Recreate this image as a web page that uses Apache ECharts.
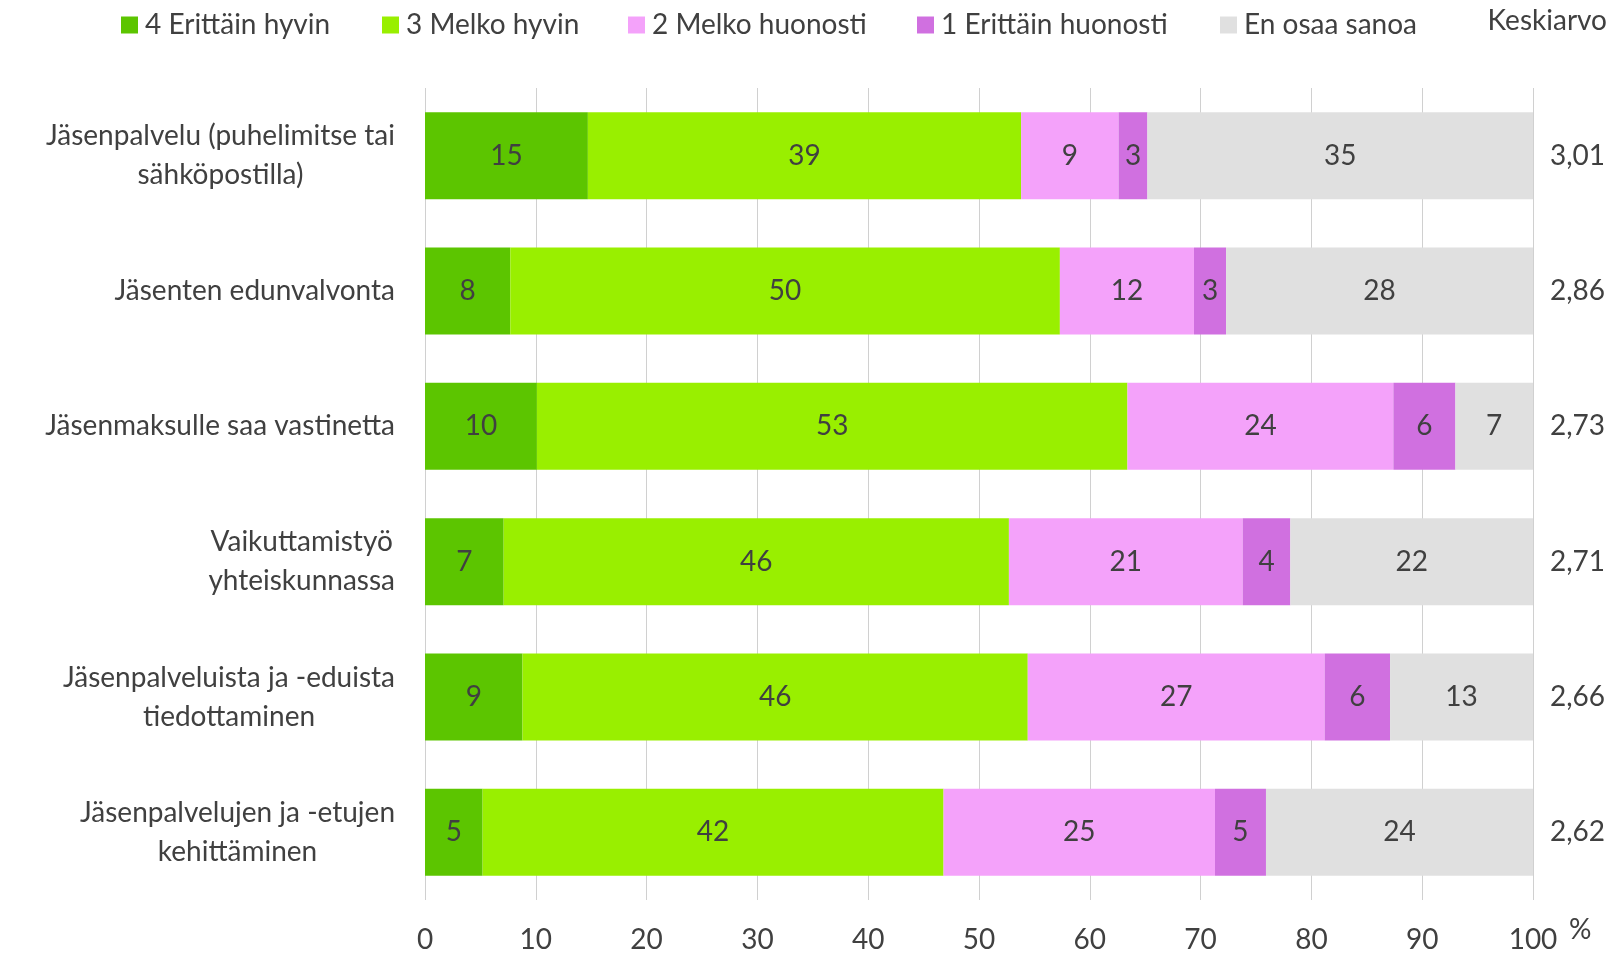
<!DOCTYPE html>
<html>
<head>
<meta charset="utf-8">
<title>Jäsenpalvelut</title>
<script src="https://cdn.jsdelivr.net/npm/echarts@6/dist/echarts.min.js"></script>
<style>
  html, body { margin: 0; padding: 0; background: #fff; }
  #chart { width: 1612px; height: 954px; }
</style>
</head>
<body>
<div id="chart"></div>
<script>
// kysymykset (ylhäältä alas)
var categories = [
    'Jäsenpalvelu (puhelimitse tai\nsähköpostilla)',
    'Jäsenten edunvalvonta',
    'Jäsenmaksulle saa vastinetta',
    'Vaikuttamistyö\nyhteiskunnassa',
    'Jäsenpalveluista ja -eduista\ntiedottaminen',
    'Jäsenpalvelujen ja -etujen\nkehittäminen'
];
var seriesNames = ['4 Erittäin hyvin', '3 Melko hyvin', '2 Melko huonosti', '1 Erittäin huonosti', 'En osaa sanoa'];
var colors = ['#5cc500', '#99ef00', '#f4a2fa', '#d070e0', '#e0e0e0'];

var erittainHyvin = [14.7, 7.7, 10.1, 7.1, 8.8, 5.2];
var melkoHyvin = [39.1, 49.6, 53.3, 45.6, 45.6, 41.6];
var melkoHuonosti = [8.8, 12.1, 24.0, 21.1, 26.8, 24.5];
var erittainHuonosti = [2.6, 2.9, 5.6, 4.3, 5.9, 4.6];
var enOsaaSanoa = [34.8, 27.7, 7.0, 21.9, 12.9, 24.1];
var keskiarvot = ['3,01', '2,86', '2,73', '2,71', '2,66', '2,62'];
var xTicks = [0, 10, 20, 30, 40, 50, 60, 70, 80, 90, 100];

var values = [erittainHyvin, melkoHyvin, melkoHuonosti, erittainHuonosti, enOsaaSanoa];
var legendLeft = [116, 377, 623, 912, 1215];
var font = 'Lato, "Open Sans", sans-serif';
var fontSize = 28;
var textColor = '#404040';

var chart = echarts.init(document.getElementById('chart'));

var series = seriesNames.map(function (name, i) {
    return {
        name: name,
        type: 'bar',
        stack: 'total',
        barWidth: 87,
        itemStyle: { color: colors[i] },
        label: {
            show: true,
            position: 'inside',
            color: textColor,
            fontFamily: font,
            fontSize: fontSize,
            formatter: function (p) { return Math.round(p.value); }
        },
        emphasis: { disabled: true },
        data: values[i]
    };
});

// jokainen selite omaan kohtaansa
var legends = seriesNames.map(function (name, i) {
    return {
        data: [name],
        left: legendLeft[i],
        top: 6,
        icon: 'rect',
        itemWidth: 17,
        itemHeight: 17,
        itemGap: 0,
        selectedMode: false,
        textStyle: { color: textColor, fontSize: fontSize, fontFamily: font, padding: [0, 0, 0, 2] }
    };
});

chart.setOption({
    animation: false,
    textStyle: { fontFamily: font },
    legend: legends,
    graphic: [{
        type: 'text',
        right: 5,
        top: 7,
        style: { text: 'Keskiarvo', fill: textColor, font: fontSize + 'px ' + font }
    }],
    grid: { left: 425, right: 79, top: 88, bottom: 54 },
    xAxis: {
        type: 'value',
        min: xTicks[0],
        max: xTicks[xTicks.length - 1],
        interval: 10,
        name: '%',
        nameLocation: 'end',
        nameGap: 36,
        nameTextStyle: { color: textColor, fontSize: fontSize, fontFamily: font, verticalAlign: 'top', padding: [16, 0, 0, 0] },
        axisLine: { show: false },
        axisTick: { show: false },
        axisLabel: { color: textColor, fontSize: fontSize, fontFamily: font, margin: 26 },
        splitLine: { lineStyle: { color: '#d0d0d0', width: 1 } }
    },
    yAxis: [{
        type: 'category',
        data: categories,
        inverse: true,
        axisLine: { show: false },
        axisTick: { show: false },
        axisLabel: {
            margin: 30,
            formatter: function (v) {
                return v.split('\n').map(function (s) { return '{c|' + s + '}'; }).join('\n');
            },
            rich: {
                c: { align: 'center', color: textColor, fontSize: fontSize, fontFamily: font, lineHeight: 39 }
            }
        }
    }, {
        type: 'category',
        data: keskiarvot,
        inverse: true,
        position: 'right',
        axisLine: { show: false },
        axisTick: { show: false },
        axisLabel: { margin: 17, color: textColor, fontSize: fontSize, fontFamily: font }
    }],
    series: series
});

window.addEventListener('resize', function () {
    chart.resize();
});
</script>
</body>
</html>
